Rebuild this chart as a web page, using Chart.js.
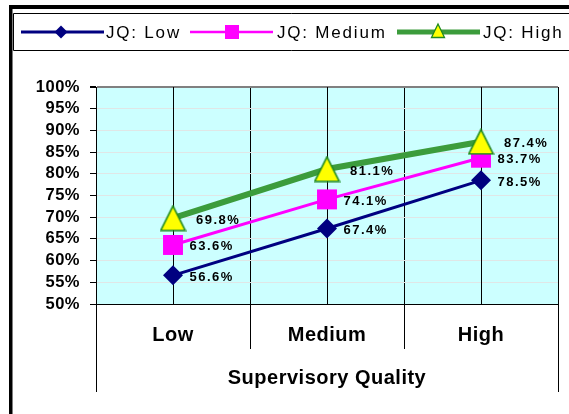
<!DOCTYPE html>
<html>
<head>
<meta charset="utf-8">
<script src="https://cdn.jsdelivr.net/npm/chart.js@4/dist/chart.umd.min.js"></script>
<style>
  html, body { margin: 0; padding: 0; background: #ffffff; overflow: hidden; }
  canvas { display: block; }
</style>
</head>
<body>
<canvas id="chart" width="569" height="414"></canvas>
<script>
// ---- data ----
const categories = ['Low', 'Medium', 'High'];
const seriesNames = ['JQ: Low', 'JQ: Medium', 'JQ: High'];
const jqLow = [56.6, 67.4, 78.5];
const jqMedium = [63.6, 74.1, 83.7];
const jqHigh = [69.8, 81.1, 87.4];
const yMin = 50;
const yMax = 100;
const yStep = 5;
const xAxisTitle = 'Supervisory Quality';

// ---- styling ----
const FONT = 'Arial, "Liberation Sans", Helvetica, sans-serif';
const NAVY = '#000080';
const MAGENTA = '#ff00ff';
const GREEN = '#3c9c3c';
const YELLOW = '#ffff00';
const PLOT_BG = '#ccffff';

// triangle marker as a small canvas, centred on the point by Chart.js
function makeTriangle(w, h, lw) {
  const c = document.createElement('canvas');
  c.width = w; c.height = h;
  const g = c.getContext('2d');
  g.beginPath();
  g.moveTo(w / 2, lw / 2 + 0.5);
  g.lineTo(w - lw / 2 - 0.5, h - lw / 2 - 0.5);
  g.lineTo(lw / 2 + 0.5, h - lw / 2 - 0.5);
  g.closePath();
  g.fillStyle = YELLOW;
  g.fill();
  g.lineWidth = lw;
  g.strokeStyle = '#1f8a1f';
  g.stroke();
  return c;
}
const triangleMarker = makeTriangle(27, 27, 1.6);

// horizontal distance from point to its value label, per series
const labelGap = [16.5, 16.5, 23];

const chromePlugin = {
  id: 'chrome',
  beforeDraw(chart) {
    const { ctx, chartArea: a } = chart;
    ctx.letterSpacing = '0.5px';
    ctx.save();
    ctx.fillStyle = '#ffffff';
    ctx.fillRect(0, 0, chart.width, chart.height);
    ctx.fillStyle = PLOT_BG;
    ctx.fillRect(a.left, a.top, a.right - a.left, a.bottom - a.top);
    ctx.restore();
  },
  beforeDatasetsDraw(chart) {
    const { ctx, chartArea: a, scales: { x } } = chart;
    ctx.save();
    ctx.strokeStyle = '#000000';
    ctx.lineWidth = 1;
    ctx.beginPath();
    // vertical line through each category
    categories.forEach((c, i) => {
      const px = Math.round(x.getPixelForValue(i)) + 0.5;
      ctx.moveTo(px, a.top);
      ctx.lineTo(px, a.bottom);
    });
    // category dividers continue below the axis
    const half = (x.getPixelForValue(1) - x.getPixelForValue(0)) / 2;
    for (let i = 0; i <= categories.length; i++) {
      const px = Math.round(x.getPixelForValue(i) - half) + 0.5;
      const edge = (i === 0 || i === categories.length);
      ctx.moveTo(px, a.bottom);
      ctx.lineTo(px, a.bottom + (edge ? 88 : 45));
    }
    ctx.stroke();
    ctx.restore();
  },
  afterDatasetsDraw(chart) {
    const { ctx } = chart;
    ctx.save();
    ctx.letterSpacing = '1.5px';
    ctx.font = 'bold 13px ' + FONT;
    ctx.fillStyle = '#000000';
    ctx.textAlign = 'left';
    ctx.textBaseline = 'alphabetic';
    chart.data.datasets.forEach((ds, di) => {
      const meta = chart.getDatasetMeta(di);
      meta.data.forEach((pt, i) => {
        ctx.fillText(ds.data[i].toFixed(1) + '%', pt.x + labelGap[di], pt.y + 5.5);
      });
    });
    ctx.restore();
  },
  afterDraw(chart) {
    const { ctx } = chart;
    ctx.save();
    // outer frame
    ctx.fillStyle = '#000000';
    ctx.fillRect(9, 5, chart.width, 4);
    ctx.fillRect(9, 5, 3.5, chart.height);
    // legend box (open to the right)
    ctx.strokeStyle = '#000000';
    ctx.lineWidth = 1;
    ctx.beginPath();
    ctx.moveTo(chart.width + 5, 13.5);
    ctx.lineTo(13.5, 13.5);
    ctx.lineTo(13.5, 50.5);
    ctx.lineTo(chart.width + 5, 50.5);
    ctx.stroke();

    const rowY = 32;
    const items = [
      { x1: 21, x2: 104, mx: 61, tx: 106 },
      { x1: 190, x2: 273, mx: 232, tx: 277 },
      { x1: 397, x2: 480, mx: 438, tx: 483 }
    ];
    const ds = chart.data.datasets;
    items.forEach((it, i) => {
      const d = ds[i];
      ctx.strokeStyle = d.borderColor;
      ctx.lineWidth = i === 2 ? 5 : (i === 1 ? 2.5 : 3);
      ctx.beginPath();
      ctx.moveTo(it.x1, rowY);
      ctx.lineTo(it.x2, rowY);
      ctx.stroke();
      ctx.beginPath();
      if (i === 0) {
        ctx.moveTo(it.mx, rowY - 6.5);
        ctx.lineTo(it.mx + 6.5, rowY);
        ctx.lineTo(it.mx, rowY + 6.5);
        ctx.lineTo(it.mx - 6.5, rowY);
        ctx.closePath();
        ctx.fillStyle = NAVY;
        ctx.fill();
      } else if (i === 1) {
        ctx.fillStyle = MAGENTA;
        ctx.fillRect(it.mx - 7, rowY - 7, 14, 14);
      } else {
        ctx.moveTo(it.mx, rowY - 8);
        ctx.lineTo(it.mx + 6.5, rowY + 5.5);
        ctx.lineTo(it.mx - 6.5, rowY + 5.5);
        ctx.closePath();
        ctx.fillStyle = YELLOW;
        ctx.fill();
        ctx.lineWidth = 1.3;
        ctx.strokeStyle = '#1f8a1f';
        ctx.stroke();
      }
      ctx.fillStyle = '#000000';
      ctx.font = '17px ' + FONT;
      ctx.letterSpacing = '1.8px';
      ctx.textAlign = 'left';
      ctx.textBaseline = 'alphabetic';
      ctx.fillText(d.label, it.tx, rowY + 5.5);
    });
    ctx.restore();
  }
};

new Chart(document.getElementById('chart'), {
  type: 'line',
  data: {
    labels: categories,
    datasets: [
      {
        label: seriesNames[0],
        data: jqLow,
        borderColor: NAVY,
        borderWidth: 3,
        pointStyle: 'rectRot',
        pointRadius: 10,
        pointBackgroundColor: NAVY,
        pointBorderColor: NAVY,
        pointBorderWidth: 0,
        order: 2
      },
      {
        label: seriesNames[1],
        data: jqMedium,
        borderColor: MAGENTA,
        borderWidth: 3,
        pointStyle: 'rect',
        pointRadius: 14.1,
        pointBackgroundColor: MAGENTA,
        pointBorderColor: MAGENTA,
        pointBorderWidth: 0,
        order: 1
      },
      {
        label: seriesNames[2],
        data: jqHigh,
        borderColor: GREEN,
        borderWidth: 6,
        pointStyle: triangleMarker,
        pointRadius: 13,
        order: 0
      }
    ]
  },
  options: {
    responsive: false,
    animation: false,
    events: [],
    layout: { autoPadding: false, padding: { left: 0, top: 87, right: 11, bottom: 0 } },
    elements: { line: { tension: 0, fill: false } },
    plugins: {
      legend: { display: false },
      tooltip: { enabled: false },
      title: { display: false }
    },
    scales: {
      x: {
        type: 'category',
        offset: true,
        grid: {
          display: true,
          offset: true,
          drawTicks: false,
          color: ctx => (ctx.index === categories.length ? '#808080' : '#000000'),
          lineWidth: ctx => (ctx.index === categories.length ? 2 : 1)
        },
        border: { display: true, color: '#000000', width: 1 },
        ticks: {
          color: '#000000',
          font: { family: FONT, size: 20, weight: 'bold' },
          padding: 19,
          maxRotation: 0,
          autoSkip: false
        },
        title: {
          display: true,
          text: xAxisTitle,
          color: '#000000',
          font: { family: FONT, size: 20, weight: 'bold' },
          padding: { top: 0, bottom: 24 }
        },
        afterFit(scale) { scale.height = 110; }
      },
      y: {
        min: yMin,
        max: yMax,
        grid: {
          color: ctx => (ctx.tick && ctx.tick.value === yMax ? '#808080' : '#e0e6e6'),
          lineWidth: ctx => (ctx.tick && ctx.tick.value === yMax ? 2 : 1),
          drawTicks: true,
          tickLength: 6,
          tickColor: '#000000'
        },
        border: { display: true, color: '#000000', width: 1 },
        ticks: {
          stepSize: yStep,
          autoSkip: false,
          color: '#000000',
          font: { family: FONT, size: 16.5, weight: 'bold' },
          padding: 10,
          callback: v => v + '%'
        },
        afterFit(scale) { scale.width = 96; }
      }
    }
  },
  plugins: [chromePlugin]
});
</script>
</body>
</html>
